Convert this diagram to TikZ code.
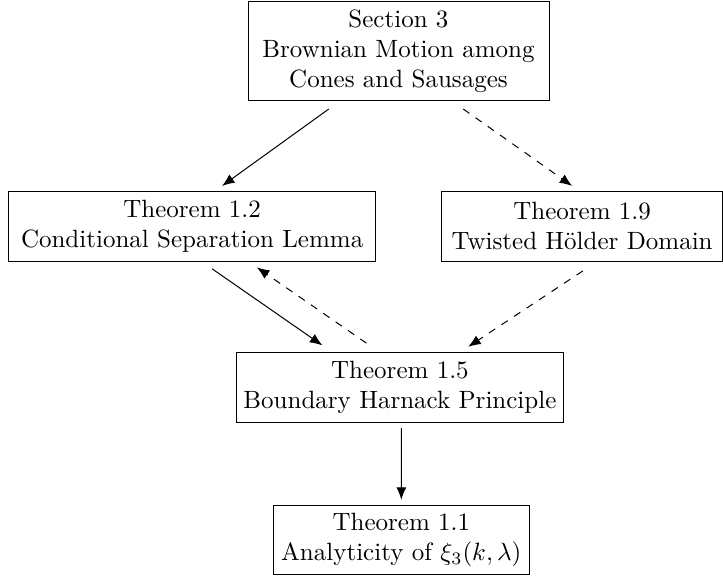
\documentclass[tikz,border=0pt]{standalone}
\usepackage{tikz}
\usetikzlibrary{arrows.meta}

\begin{document}
\begin{tikzpicture}[box/.style={draw,align=center,inner xsep=1pt,inner ysep=3pt},
    dep/.style={-{Latex[length=5pt,width=4pt]}}]

    \useasboundingbox (0,0) rectangle (10.16,-8.14);

    \node[box,minimum width=4.23cm,minimum height=1.39cm] (s3) at (5.60,-0.72) {Section 3\\Brownian Motion among\\Cones and Sausages};
    \node[box,minimum width=5.15cm,minimum height=0.98cm] (t12) at (2.70,-3.18) {Theorem 1.2\\Conditional Separation Lemma};
    \node[box,minimum width=3.94cm,minimum height=0.98cm] (t19) at (8.18,-3.18) {Theorem 1.9\\Twisted H\"older Domain};
    \node[box,minimum width=4.60cm,minimum height=0.98cm] (t15) at (5.62,-5.45) {Theorem 1.5\\Boundary Harnack Principle};
    \node[box,minimum width=3.60cm,minimum height=0.98cm] (t11) at (5.64,-7.59) {Theorem 1.1\\Analyticity of $\xi_3(k,\lambda)$};
    \draw[dep]  ([xshift=-0.98cm,yshift=-0.11cm]s3.south) -- ([xshift=0.42cm,yshift=0.07cm]t12.north);
    \draw[dep,dashed]  ([xshift=0.91cm,yshift=-0.11cm]s3.south) -- ([xshift=-0.14cm,yshift=0.07cm]t19.north);
    \draw[dep]  ([xshift=0.28cm,yshift=-0.10cm]t12.south) -- ([xshift=-1.09cm,yshift=0.10cm]t15.north);
    \draw[dep,dashed]  ([xshift=-0.47cm,yshift=0.13cm]t15.north) -- ([xshift=0.91cm,yshift=-0.08cm]t12.south);
    \draw[dep,dashed]  ([xshift=0.01cm,yshift=-0.13cm]t19.south) -- ([xshift=0.96cm,yshift=0.08cm]t15.north);
    \draw[dep]  ([xshift=0.02cm,yshift=-0.07cm]t15.south) -- ([yshift=0.07cm]t11.north);
    \end{tikzpicture}
\end{document}
